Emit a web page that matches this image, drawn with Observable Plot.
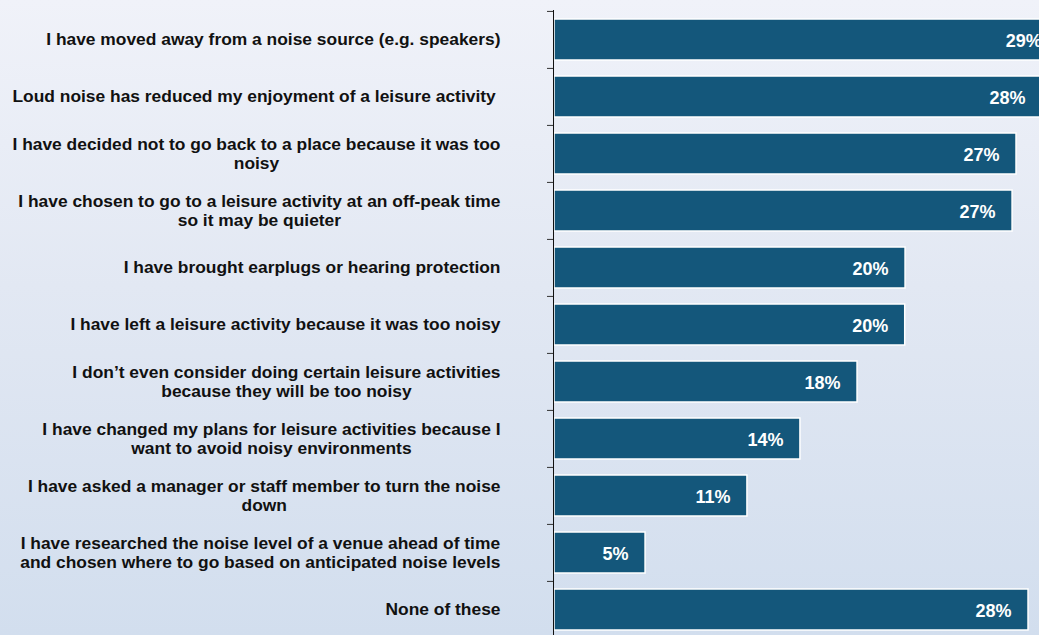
<!DOCTYPE html>
<html>
<head>
<meta charset="utf-8">
<script src="https://cdn.jsdelivr.net/npm/d3@7"></script>
<script src="https://cdn.jsdelivr.net/npm/@observablehq/plot@0.6"></script>
<style>
  html, body { margin: 0; padding: 0; width: 1039px; height: 635px; overflow: hidden;
    background: linear-gradient(to bottom, #f0f2f9 0%, #e2e8f3 45%, #d2deee 100%); }
  #chart svg { display: block; }
</style>
</head>
<body>
<div id="chart"></div>
<script>
const categories = [
  "I have moved away from a noise source (e.g. speakers)",
  "Loud noise has reduced my enjoyment of a leisure activity ",
  "I have decided not to go back to a place because it was too\nnoisy",
  "I have chosen to go to a leisure activity at an off-peak time\nso it may be quieter",
  "I have brought earplugs or hearing protection",
  "I have left a leisure activity because it was too noisy",
  "I don\u2019t even consider doing certain leisure activities\nbecause they will be too noisy",
  "I have changed my plans for leisure activities because I\nwant to avoid noisy environments",
  "I have asked a manager or staff member to turn the noise\ndown",
  "I have researched the noise level of a venue ahead of time\nand chosen where to go based on anticipated noise levels",
  "None of these"
];
const values = [29.4, 28.45, 26.94, 26.71, 20.47, 20.45, 17.67, 14.34, 11.25, 5.31, 27.64];
const valueLabels = ["29%", "28%", "27%", "27%", "20%", "20%", "18%", "14%", "11%", "5%", "28%"];

const data = categories.map((c, i) => ({cat: c, value: values[i], label: valueLabels[i]}));

const FONT = "'Liberation Sans', Arial, Helvetica, sans-serif";
const catFontSize = 17.4;
const ctx = document.createElement("canvas").getContext("2d");
ctx.font = `bold ${catFontSize}px ${FONT}`;
function blockWidth(s) {
  return Math.max(...s.split("\n").map(l => ctx.measureText(l).width));
}

const yTop = 10, yBottom = 639;
const step = (yBottom - yTop) / categories.length;

const labelMarks = categories.map(c =>
  Plot.text([c], {
    y: d => d,
    text: d => d.replace(/ +$/, m => "\u00a0".repeat(m.length)),
    frameAnchor: "left",
    textAnchor: "middle",
    dx: -54 - blockWidth(c) / 2,
    dy: -1,
    lineHeight: 1.12,
    fontSize: catFontSize,
    fontWeight: "bold",
    fill: "#111"
  })
);

const chart = Plot.plot({
  width: 1039,
  height: 635,
  marginLeft: 554,
  marginRight: 0,
  marginTop: 10,
  marginBottom: 0,
  style: {background: "transparent", fontFamily: FONT},
  x: {domain: [0, 28.28], axis: null},
  y: {domain: categories, range: [yTop, yBottom], paddingInner: 0.28, paddingOuter: 0.14, label: null},
  marks: [
    Plot.barX(data, {x: "value", y: "cat", fill: "#14577b", stroke: "white", strokeWidth: 1.5}),
    Plot.text(data, {x: "value", y: "cat", text: "label", textAnchor: "end", dx: -17, dy: 1,
      fill: "white", fontSize: 18, fontWeight: "bold"}),
    Plot.axisY({tickSize: 7, tickFormat: () => "", label: null, dy: -step / 2, stroke: "#333"}),
    Plot.ruleX([0], {stroke: "#111", strokeWidth: 1, dx: -1}),
    ...labelMarks
  ]
});
document.getElementById("chart").appendChild(chart);
</script>
</body>
</html>
